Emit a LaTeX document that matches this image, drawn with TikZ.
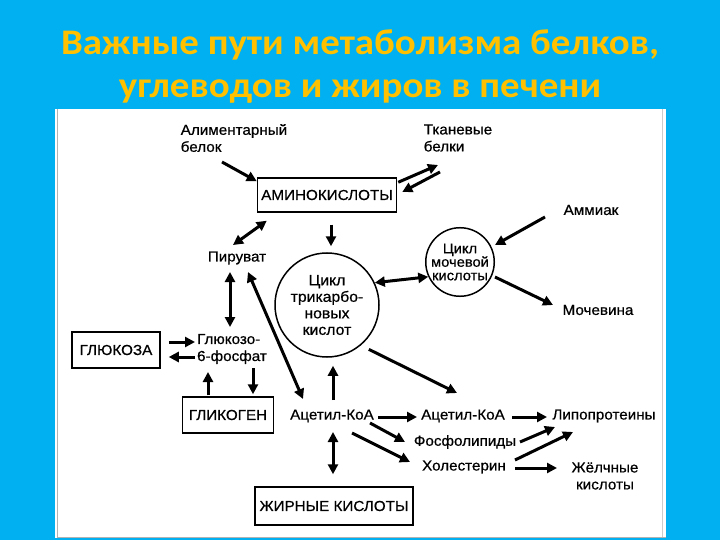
\documentclass[tikz,border=0pt]{standalone}
\usepackage{fontspec}
\usetikzlibrary{arrows.meta}
\newfontfamily\ttlfont[FakeStretch=1.08]{Carlito}
\newfontfamily\labfont[FakeStretch=1.05, FakeBold=0.6]{Liberation Sans}
\definecolor{slideblue}{HTML}{00B0F0}
\definecolor{ttlyellow}{HTML}{FFC000}

\begin{document}
\begin{tikzpicture}[x=1pt, y=-1pt,
  ttl/.style={font=\ttlfont\bfseries\fontsize{36}{44}\selectfont, text=ttlyellow, inner sep=0pt},
  lbl/.style={font=\labfont\fontsize{14.5}{17}\selectfont, inner sep=1pt, align=left},
  lblc/.style={lbl, align=center},
  pool/.style={draw, line width=1.5pt, inner sep=0pt, font=\labfont\fontsize{14.5}{17}\selectfont},
  cyc/.style={circle, draw, line width=1.5pt, inner sep=0pt, align=center},
  arr/.style={-{Triangle[length=10pt,width=10pt]}, line width=3pt},
  darr/.style={{Triangle[length=10pt,width=10pt]}-{Triangle[length=10pt,width=10pt]}, line width=3pt}]
\useasboundingbox (0,0) rectangle (720,540);
\fill[slideblue] (0,0) rectangle (720,540);
% title
\node[ttl] (title1) at (360,45) {Важные пути метаболизма белков,};
\node[ttl] (title2) at (360,92) {углеводов и жиров в печени};
% scanned sheet
\fill[white] (55,109) rectangle (666,538);
\draw[gray!60, line width=1pt] (57,109) -- (57,537) -- (666,537);
\draw[gray!40, line width=0.8pt] (662,109) -- (662,537);

% pools and cycles
\node[pool, minimum width=139pt, minimum height=34pt] (amino) at (327,195) {АМИНОКИСЛОТЫ};
\node[pool, minimum width=88pt, minimum height=36pt] (gluc) at (116,350) {ГЛЮКОЗА};
\node[pool, minimum width=91pt, minimum height=36pt] (glyc) at (228,415) {ГЛИКОГЕН};
\node[pool, minimum width=158pt, minimum height=38pt] (fatty) at (334,506) {ЖИРНЫЕ КИСЛОТЫ};
\node[cyc, minimum size=104pt, font=\labfont\fontsize{15}{16.5}\selectfont] (tca) at (327,305) {Цикл\\трикарбо-\\новых\\кислот};
\node[cyc, minimum size=66pt, font=\labfont\fontsize{14}{13.5}\selectfont] (urea) at (460,262) {Цикл\\мочевой\\кислоты};

% metabolites
\node[lbl] (alim) at (234,138) {Алиментарный\\белок};
\node[lbl] (tkan) at (458,138) {Тканевые\\белки};
\node[lbl] (pyr) at (237,258) {Пируват};
\node[lbl] (g6p) at (232,349) {Глюкозо-\\6-фосфат};
\node[lbl] (amm) at (591,210) {Аммиак};
\node[lbl] (moch) at (598,310) {Мочевина};
\node[lbl] (acl) at (332,416) {Ацетил-КоА};
\node[lbl] (acr) at (463,416) {Ацетил-КоА};
\node[lbl] (lipo) at (604,416) {Липопротеины};
\node[lbl] (phos) at (465,442) {Фосфолипиды};
\node[lbl] (chol) at (464,467) {Холестерин};
\node[lblc] (bile) at (605,476) {Жёлчные\\кислоты};

% protein part
\draw[arr] ([shift={(-12,24)}]alim.center) -- ([shift={(0,4)}]amino.north west);
\draw[arr] ([shift={(1,5)}]amino.north east) -- ([shift={(-20,27)}]tkan.center);
\draw[arr] ([shift={(-18,34)}]tkan.center) -- ([shift={(5,-3)}]amino.east);
\draw[arr] ([shift={(4,12)}]amino.south) -- ([shift={(4,-6)}]tca.north);
\draw[darr] ([shift={(-4,-13)}]pyr.center) -- ([shift={(10,8)}]amino.south west);
\draw[darr] (tca.25) -- (urea.205);
\draw[arr] ([shift={(-46,7)}]amm.center) -- ([shift={(35,-17)}]urea.center);
\draw[arr] ([shift={(35,15)}]urea.center) -- ([shift={(-45,-5)}]moch.center);

% carbohydrate part
\draw[darr] ([shift={(-7,14)}]pyr.center) -- ([shift={(-2,-22)}]g6p.center);
\draw[darr] ([shift={(11,14)}]pyr.center) -- ([shift={(-29,-17)}]acl.center);
\draw[arr] ([shift={(8,-8)}]gluc.east) -- ([shift={(-37,-7)}]g6p.center);
\draw[arr] ([shift={(-37,8)}]g6p.center) -- ([shift={(8,7)}]gluc.east);
\draw[arr] ([shift={(-20,-1)}]glyc.north) -- ([shift={(-24,23)}]g6p.center);
\draw[arr] ([shift={(21,19)}]g6p.center) -- ([shift={(25,-2)}]glyc.north);

% lipid part
\draw[arr] ([shift={(1,-16)}]acl.center) -- ([shift={(6,8)}]tca.south);
\draw[arr] ([shift={(8,4)}]tca.-50) -- ([shift={(-6,-23)}]acr.center);
\draw[arr] ([shift={(46,1)}]acl.center) -- ([shift={(-46,1)}]acr.center);
\draw[arr] ([shift={(49,1)}]acr.center) -- ([shift={(-57,1)}]lipo.center);
\draw[arr] ([shift={(38,7)}]acl.center) -- ([shift={(-60,0)}]phos.center);
\draw[arr] ([shift={(20,17)}]acl.center) -- ([shift={(-54,-5)}]chol.center);
\draw[arr] ([shift={(55,0)}]phos.center) -- ([shift={(-49,11)}]lipo.center);
\draw[arr] ([shift={(51,-7)}]chol.center) -- ([shift={(-31,16)}]lipo.center);
\draw[arr] ([shift={(51,1)}]chol.center) -- ([shift={(-48,-8)}]bile.center);
\draw[darr] ([shift={(1,16)}]acl.center) -- ([shift={(-1,-12)}]fatty.north);
\end{tikzpicture}
\end{document}
